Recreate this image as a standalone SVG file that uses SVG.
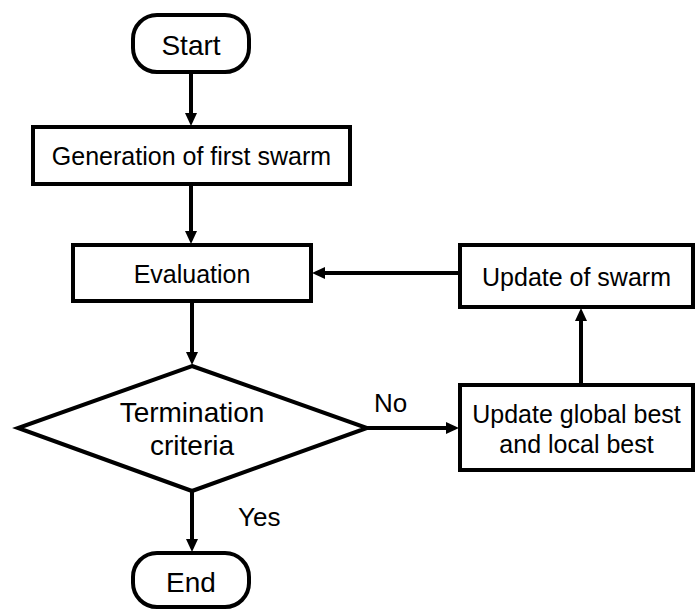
<svg xmlns="http://www.w3.org/2000/svg" width="697" height="609" viewBox="0 0 697 609">
  <style>
    .shape { fill: #ffffff; stroke: #000000; stroke-width: 4; }
    .conn { fill: none; stroke: #000000; stroke-width: 4; }
    .t { font-family: "Liberation Sans", Arial, sans-serif; fill: #000000; text-anchor: middle; }
    .box { font-size: 25px; }
    .big { font-size: 28px; }
    .lbl { font-family: "Liberation Sans", Arial, sans-serif; fill: #000000; font-size: 26px; }
  </style>
  <defs>
    <marker id="arrow" viewBox="0 0 13 12" refX="1" refY="6" markerWidth="13" markerHeight="12" markerUnits="userSpaceOnUse" orient="auto">
      <path d="M0,0 L13,6 L0,12 Z" fill="#000000"/>
    </marker>
  </defs>
  <rect x="0" y="0" width="697" height="609" fill="#ffffff"/>

  <g id="connectors">
    <line class="conn" x1="191" y1="72" x2="191" y2="114" marker-end="url(#arrow)"/>
    <line class="conn" x1="191" y1="184" x2="191" y2="232" marker-end="url(#arrow)"/>
    <line class="conn" x1="192" y1="301" x2="192" y2="353" marker-end="url(#arrow)"/>
    <line class="conn" x1="192" y1="491" x2="192" y2="540" marker-end="url(#arrow)"/>
    <line class="conn" x1="367" y1="428" x2="447" y2="428" marker-end="url(#arrow)"/>
    <line class="conn" x1="581" y1="385" x2="581" y2="320" marker-end="url(#arrow)"/>
    <line class="conn" x1="460" y1="273" x2="324" y2="273" marker-end="url(#arrow)"/>
    <text class="lbl" x="374" y="412">No</text>
    <text class="lbl" x="238" y="526">Yes</text>
  </g>

  <g id="start">
    <rect class="shape" x="133" y="15" width="116" height="57" rx="24" ry="24"/>
    <text class="t big" x="191" y="55">Start</text>
  </g>

  <g id="generation">
    <rect class="shape" x="33" y="127" width="317" height="57"/>
    <text class="t box" x="191.5" y="165">Generation of first swarm</text>
  </g>

  <g id="evaluation">
    <rect class="shape" x="73" y="245" width="238" height="56"/>
    <text class="t box" x="192" y="283">Evaluation</text>
  </g>

  <g id="termination">
    <polygon class="shape" points="192,366 367,428 192,491 18,428"/>
    <text class="t big" x="192" y="422">Termination</text>
    <text class="t big" x="192" y="455">criteria</text>
  </g>

  <g id="update-swarm">
    <rect class="shape" x="460" y="245" width="233" height="62"/>
    <text class="t box" x="576.5" y="286">Update of swarm</text>
  </g>

  <g id="update-best">
    <rect class="shape" x="460" y="385" width="233" height="85"/>
    <text class="t box" x="576.5" y="423">Update global best</text>
    <text class="t box" x="576.5" y="453">and local best</text>
  </g>

  <g id="end">
    <rect class="shape" x="133" y="553" width="116" height="54" rx="24" ry="24"/>
    <text class="t big" x="191" y="592">End</text>
  </g>
</svg>
